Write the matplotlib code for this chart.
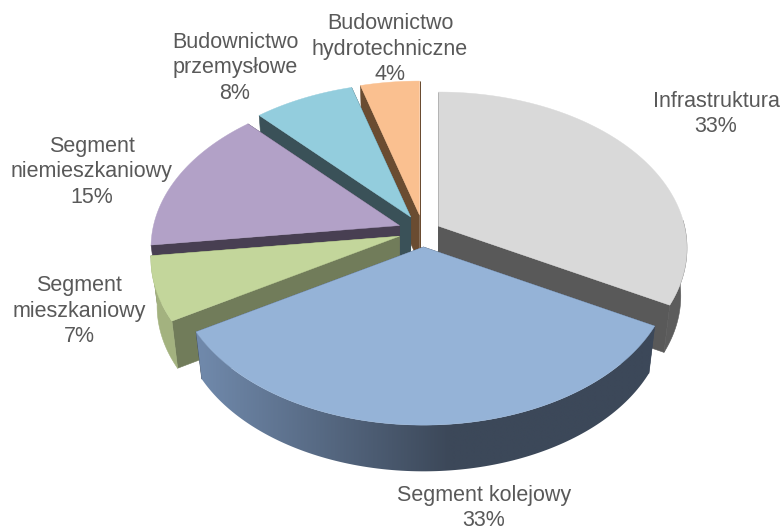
import numpy as np
import matplotlib
matplotlib.use('Agg')
import matplotlib.pyplot as plt
from matplotlib.patches import Polygon
from matplotlib.colors import LinearSegmentedColormap

categories = ['Infrastruktura', 'Segment kolejowy', 'Segment\nmieszkaniowy',
              'Segment\nniemieszkaniowy', 'Budownictwo\nprzemysłowe',
              'Budownictwo\nhydrotechniczne']
values = [33, 33.4, 6.6, 15.1, 7.5, 4.4]

top_colors = ['#d9d9d9', '#95b3d7', '#c3d69b', '#b2a1c7', '#93cddd', '#fac090']
wall_colors = ['#595959', '#3c4859', '#717c5a', '#483f52', '#3a5158', '#6a4c31']
outer_colors = ['#5c5c5c', '#3c4859', '#a3b27f', None, None, None]
label_pos = [(716, 114), (484, 508), (79, 311), (92, 172), (235, 68), (390, 49)]

plt.rcParams['font.family'] = ['Liberation Sans', 'DejaVu Sans']

# projection of the tilted pie, in pixels
cx, cy = 423, 231
rx, ry = 246, 153
persp = 0.141
ex, ey = 25, 16
depth = 48
low_x, low_y = 0.975, 0.99


def project(theta):
    u, v = np.sin(theta), np.cos(theta)
    w = 1 + persp * v
    return rx * u / w, -ry * v / w


fig = plt.figure(figsize=(7.82, 5.30), dpi=100)
ax = fig.add_axes([0, 0, 1, 1])

total = sum(values)
edges = np.cumsum([0] + values) / total * 2 * np.pi
blue_shade = LinearSegmentedColormap.from_list('blue_shade', ['#7089ab', '#3c4859'])

# back to front
order = [5, 4, 3, 0, 2, 1]
for z, i in enumerate(order):
    a0, a1 = edges[i], edges[i + 1]
    mid = (a0 + a1) / 2
    ax0 = cx + ex * np.sin(mid) * (0.72 if i == 0 else 1)
    ay0 = cy - ey * np.cos(mid) * (0.6 if i == 0 else 1)
    t = np.linspace(a0, a1, 120)
    rel_x, rel_y = project(t)
    top_x, top_y = ax0 + rel_x, ay0 + rel_y
    bot_x, bot_y = ax0 + rel_x * low_x, ay0 + rel_y * low_y + depth

    zo = 2 + z * 3
    # radial walls
    for k in [0, -1]:
        wall = [(ax0, ay0), (top_x[k], top_y[k]), (bot_x[k], bot_y[k]), (ax0, ay0 + depth)]
        ax.add_patch(Polygon(wall, fc=wall_colors[i], ec=wall_colors[i], lw=0.4, zorder=zo))
    # outer wall, only the front facing slices show one
    if outer_colors[i] is not None:
        front = np.cos(t) < 0.05
        ring = np.column_stack([np.r_[top_x[front], bot_x[front][::-1]],
                                np.r_[top_y[front], bot_y[front][::-1]]])
        if i == 1:
            clip = Polygon(ring, fc='none', ec='none', transform=ax.transData)
            ax.add_patch(clip)
            grad = np.clip((np.linspace(190, 660, 300) - 200) / 250, 0, 1)[None, :]
            im = ax.imshow(grad, cmap=blue_shade, extent=(190, 660, 480, 320), aspect='auto',
                           interpolation='bilinear', zorder=zo + 1)
            im.set_clip_path(clip)
        else:
            ax.add_patch(Polygon(ring, fc=outer_colors[i], ec=outer_colors[i], lw=0.4, zorder=zo + 1))
    # top face
    face = np.column_stack([np.r_[ax0, top_x], np.r_[ay0, top_y]])
    ax.add_patch(Polygon(face, fc=top_colors[i], ec=top_colors[i], lw=0.3, zorder=zo + 2))

    ax.text(label_pos[i][0], label_pos[i][1], '%s\n%.0f%%' % (categories[i], values[i]),
            ha='center', va='center', fontsize=15.5, color='#595959', linespacing=1.26,
            zorder=50)

ax.set_xlim(0, 782)
ax.set_ylim(530, 0)
ax.axis('off')

fig.savefig('out.png', dpi=100)
